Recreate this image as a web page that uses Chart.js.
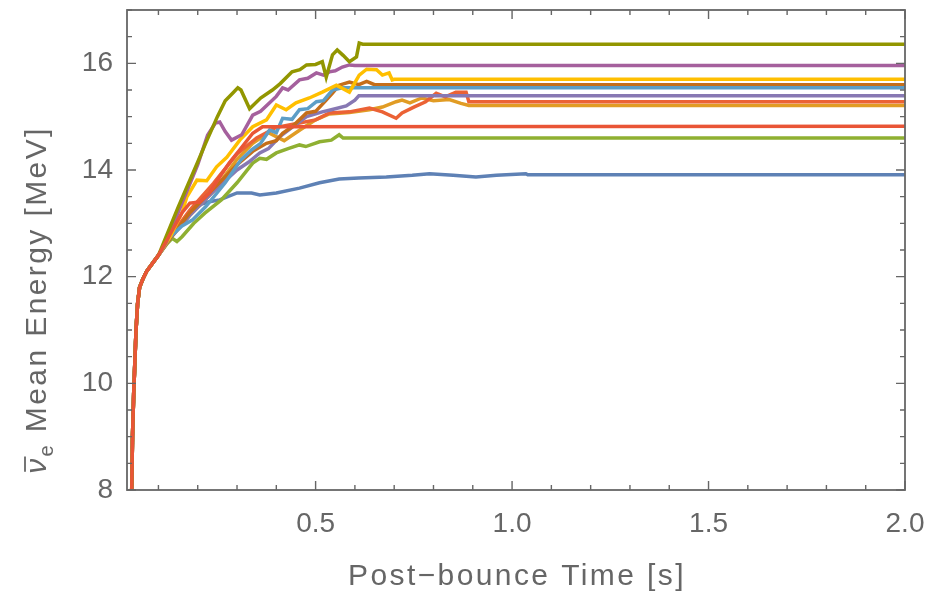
<!DOCTYPE html>
<html>
<head>
<meta charset="utf-8">
<script src="https://cdn.jsdelivr.net/npm/chart.js@4/dist/chart.umd.min.js"></script>
<style>
html,body{margin:0;padding:0;background:#fff;}
#wrap{width:930px;height:593px;position:relative;}
</style>
</head>
<body>
<div id="wrap"><canvas id="c" width="930" height="593"></canvas></div>
<script>
// ---- data: [post-bounce time (s), mean energy (MeV)] ----
const rise = [[0.032,8.0],[0.034,9.0],[0.037,9.8],[0.040,10.4],[0.043,11.0],[0.047,11.5],[0.052,11.8],[0.060,11.95],[0.070,12.1],[0.085,12.25],[0.100,12.4]];

const s1 = [[0.12,12.62],[0.15,12.95],[0.18,13.2],[0.21,13.36],[0.226,13.4],[0.256,13.44],[0.30,13.57],[0.337,13.57],[0.358,13.53],[0.40,13.57],[0.459,13.66],[0.51,13.76],[0.56,13.83],[0.61,13.85],[0.68,13.87],[0.746,13.9],[0.79,13.93],[0.85,13.9],[0.908,13.87],[0.96,13.9],[1.035,13.93],[1.04,13.91],[2.0,13.91]];
const s2 = [[0.13,12.72],[0.18,13.15],[0.24,13.6],[0.30,14.2],[0.34,14.5],[0.38,14.7],[0.42,14.55],[0.46,14.75],[0.50,14.94],[0.535,15.05],[0.586,15.08],[0.637,15.13],[0.67,15.18],[0.705,15.28],[0.72,15.31],[0.74,15.26],[0.77,15.35],[0.80,15.3],[0.84,15.32],[0.87,15.25],[0.89,15.21],[2.0,15.21]];
const s3 = [[0.12,12.6],[0.135,12.72],[0.147,12.66],[0.16,12.75],[0.19,13.0],[0.218,13.19],[0.26,13.44],[0.30,13.76],[0.34,14.13],[0.358,14.22],[0.375,14.2],[0.40,14.32],[0.43,14.4],[0.459,14.47],[0.475,14.44],[0.51,14.53],[0.54,14.56],[0.56,14.66],[0.57,14.6],[2.0,14.6]];
const s4 = [[0.13,12.75],[0.18,13.25],[0.24,13.75],[0.30,14.3],[0.35,14.6],[0.40,14.8],[0.459,14.88],[0.50,14.94],[0.535,15.07],[0.586,15.09],[0.637,15.16],[0.67,15.09],[0.705,14.97],[0.72,15.07],[0.75,15.18],[0.78,15.28],[0.807,15.44],[0.83,15.37],[0.857,15.46],[0.883,15.46],[0.89,15.28],[2.0,15.28]];
const s5 = [[0.13,12.72],[0.18,13.15],[0.24,13.6],[0.30,14.0],[0.33,14.15],[0.358,14.32],[0.38,14.4],[0.408,14.62],[0.44,14.8],[0.477,15.0],[0.517,15.09],[0.54,15.13],[0.578,15.2],[0.60,15.31],[0.61,15.39],[2.0,15.39]];
const s6 = [[0.13,12.72],[0.18,13.2],[0.24,13.65],[0.30,14.1],[0.34,14.35],[0.375,14.5],[0.40,14.55],[0.416,14.69],[0.44,14.81],[0.477,15.07],[0.50,15.1],[0.527,15.31],[0.543,15.44],[0.56,15.59],[0.586,15.65],[0.61,15.6],[0.63,15.66],[0.65,15.6],[2.0,15.6]];
const s7 = [[0.13,12.75],[0.16,12.95],[0.186,13.06],[0.22,13.31],[0.27,13.76],[0.31,14.19],[0.337,14.38],[0.36,14.5],[0.383,14.75],[0.40,14.7],[0.416,14.97],[0.44,14.95],[0.459,15.13],[0.48,15.15],[0.502,15.28],[0.52,15.3],[0.543,15.5],[0.568,15.54],[2.0,15.54]];
const s8 = [[0.13,12.75],[0.16,13.2],[0.172,13.49],[0.198,13.81],[0.223,13.8],[0.248,14.06],[0.274,14.24],[0.307,14.56],[0.34,14.81],[0.375,14.94],[0.40,15.22],[0.425,15.13],[0.45,15.26],[0.484,15.35],[0.517,15.46],[0.553,15.59],[0.586,15.46],[0.611,15.78],[0.63,15.89],[0.655,15.88],[0.67,15.78],[0.687,15.82],[0.695,15.69],[0.70,15.7],[2.0,15.7]];
const s9 = [[0.12,12.65],[0.15,13.2],[0.20,14.1],[0.225,14.65],[0.245,14.88],[0.256,14.9],[0.27,14.72],[0.286,14.56],[0.312,14.66],[0.34,15.03],[0.36,15.1],[0.383,15.26],[0.40,15.38],[0.416,15.54],[0.43,15.5],[0.459,15.69],[0.48,15.72],[0.502,15.82],[0.52,15.78],[0.535,15.84],[0.55,15.86],[0.568,15.93],[0.586,15.97],[0.60,15.96],[2.0,15.96]];
const s10 = [[0.15,13.3],[0.20,14.15],[0.22,14.5],[0.25,15.0],[0.27,15.3],[0.29,15.45],[0.302,15.54],[0.31,15.5],[0.332,15.15],[0.36,15.35],[0.39,15.5],[0.41,15.62],[0.44,15.84],[0.46,15.88],[0.477,15.97],[0.50,15.98],[0.517,16.03],[0.527,15.74],[0.543,16.16],[0.555,16.25],[0.57,16.15],[0.586,16.03],[0.604,16.12],[0.611,16.38],[0.62,16.36],[2.0,16.36]];
const s11 = [[0.13,12.8],[0.16,13.2],[0.18,13.38],[0.205,13.4],[0.23,13.57],[0.256,13.87],[0.28,14.13],[0.307,14.38],[0.34,14.69],[0.365,14.81],[2.0,14.82]];

const series = [s1,s2,s3,s4,s5,s6,s7,s8,s9,s10,s11];
const colors = ['#5E81B5','#E19C24','#8FB032','#EB6235','#8778B3','#C56E1A','#5D9EC7','#FFBF00','#A5609D','#929600','#E95536'];
const xTicks = [0.5,1.0,1.5,2.0];
const yTicks = [8,10,12,14,16];

const FONT = 'Liberation Sans, Arial, sans-serif';
const GRAY = '#666666';

const datasets = series.map((s,i)=>({
  data: rise.concat(s).map(p=>({x:p[0],y:p[1]})),
  borderColor: colors[i],
  borderWidth: 3.5,
  pointRadius: 0,
  tension: 0,
  fill: false,
  order: series.length - i
}));

const framePlugin = {
  id:'frame',
  afterDraw(chart){
    const {ctx, chartArea:a, scales:{x,y}} = chart;
    ctx.save();
    ctx.strokeStyle = GRAY;
    ctx.lineWidth = 1.8;
    ctx.strokeRect(a.left, a.top, a.right-a.left, a.bottom-a.top);
    ctx.lineWidth = 1.4;
    ctx.beginPath();
    for(let i=1;i<=20;i++){
      const t=i/10; const px = x.getPixelForValue(t);
      const L = (i%5===0)?9:5;
      ctx.moveTo(px,a.bottom); ctx.lineTo(px,a.bottom-L);
      ctx.moveTo(px,a.top); ctx.lineTo(px,a.top+L);
    }
    for(let i=16;i<=34;i++){
      const v=i/2; const py = y.getPixelForValue(v);
      const L = (i%4===0)?9:5;
      ctx.moveTo(a.left,py); ctx.lineTo(a.left+L,py);
      ctx.moveTo(a.right,py); ctx.lineTo(a.right-L,py);
    }
    ctx.stroke();
    // axis titles
    ctx.fillStyle = GRAY;
    ctx.textBaseline = 'middle';
    ctx.textAlign = 'center';
    ctx.letterSpacing = '2.4px';
    ctx.font = '30px '+FONT;
    ctx.fillText('Post\u2212bounce Time [s]', (a.left+a.right)/2 + 1, 577);
    // y title
    ctx.translate(38, 300);
    ctx.rotate(-Math.PI/2);
    const f1 = 'italic 30px '+FONT, f2 = '20px '+FONT, f3 = '30px '+FONT;
    ctx.font=f1; const w1 = ctx.measureText('\u03bd').width;
    ctx.font=f2; const w2 = ctx.measureText('e').width;
    ctx.font=f3; const rest=' Mean Energy [MeV]'; const w3 = ctx.measureText(rest).width;
    let sx = -(w1+w2+w3)/2;
    ctx.textAlign='left';
    ctx.font=f1; ctx.fillText('\u03bd', sx, 0);
    ctx.lineWidth=1.8; ctx.beginPath(); ctx.moveTo(sx+2,-13); ctx.lineTo(sx+w1,-13); ctx.stroke();
    sx += w1;
    ctx.font=f2; ctx.fillText('e', sx, 9);
    sx += w2;
    ctx.font=f3; ctx.fillText(rest, sx, 0);
    ctx.restore();
  }
};

new Chart(document.getElementById('c'), {
  type:'line',
  data:{datasets},
  plugins:[framePlugin],
  options:{
    responsive:false,
    animation:false,
    layout:{padding:{left:0,top:10,right:25,bottom:0}},
    plugins:{legend:{display:false},tooltip:{enabled:false}},
    scales:{
      x:{
        type:'linear', min:0.02, max:2.0,
        afterBuildTicks:(s)=>{ s.ticks = xTicks.map(v=>({value:v})); },
        afterFit:(s)=>{ s.height = 103; s.paddingLeft = 0; s.paddingRight = 0; },
        grid:{display:false, drawTicks:false},
        border:{display:false},
        ticks:{color:GRAY, font:{size:28, family:FONT}, padding:17, maxRotation:0, callback:(v)=>v.toFixed(1)}
      },
      y:{
        type:'linear', min:8, max:17,
        afterBuildTicks:(s)=>{ s.ticks = yTicks.map(v=>({value:v})); },
        afterFit:(s)=>{ s.width = 127; s.paddingTop = 0; s.paddingBottom = 0; },
        grid:{display:false, drawTicks:false},
        border:{display:false},
        ticks:{color:GRAY, font:{size:28, family:FONT}, padding:14, callback:(v)=>String(v)}
      }
    }
  }
});
</script>
</body>
</html>
